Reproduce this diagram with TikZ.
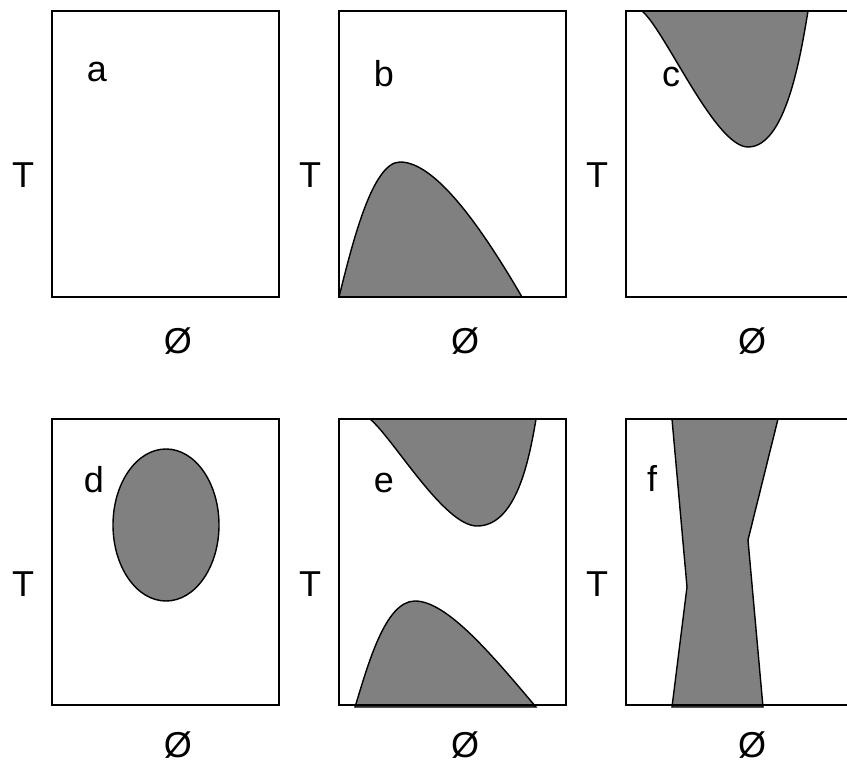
\documentclass[tikz,border=0pt]{standalone}
\usepackage{fontspec}
\setmainfont{Liberation Sans}
\definecolor{regiongray}{RGB}{128,128,128}
\tikzset{
    % frames and shaded phase regions
    panel/.style  = {draw=black, line width=0.8pt},
    region/.style = {draw=black, line width=0.7pt, fill=regiongray},
    % texts
    axislabel/.style = {font=\fontsize{18}{22}\selectfont, anchor=base, inner sep=0pt},
    tag/.style       = {font=\fontsize{18}{22}\selectfont, anchor=base, inner sep=0pt}
}

\begin{document}
\begin{tikzpicture}[x=0.5pt, y=-0.5pt]
    \useasboundingbox (0,0) rectangle (847,765);
    \clip (0,0) rectangle (847,765);

    % b: single lobe from the origin
    \draw[region] (339,297) .. controls (352,245) and (372,162) .. (400,162)
        .. controls (435,162) and (480,225) .. (522,297) -- cycle;
    % c: region hanging from the top
    \draw[region] (642,11) .. controls (665,30) and (715,147) .. (748,147)
        .. controls (785,147) and (800,60) .. (808,11) -- cycle;
    % d: closed island
    \draw[region] (166,525) ellipse [x radius=53, y radius=76];
    % e: both regions
    \draw[region] (370,419) .. controls (393,438) and (444,526) .. (477,526)
        .. controls (514,526) and (528,468) .. (536,419) -- cycle;
    \draw[region] (355,707) .. controls (368,665) and (385,601) .. (415,601)
        .. controls (447,601) and (492,655) .. (536,707) -- cycle;
    % f: band through the whole range
    \draw[region] (672,419) -- (687,587) -- (672,707) -- (763,707)
        -- (748,540) -- (778,419) -- cycle;

    \foreach \px/\py/\dy/\n in {52/11/342/a, 339/11/342/b, 626/11/342/c,
                                52/419/338/d, 339/419/338/e, 626/419/338/f} {
        \draw[panel] (\px,\py) rectangle ++(227,286);
        \node[axislabel] (T\n) at (\px-29,\py+177) {T};
        \node[axislabel] (phi\n) at (\px+126,\py+\dy) {Ø};
    }

    \node[tag] (taga) at (97,82) {a};
    \node[tag] (tagb) at (384,87) {b};
    \node[tag] (tagc) at (671,87) {c};
    \node[tag] (tagd) at (94,492) {d};
    \node[tag] (tage) at (384,492) {e};
    \node[tag] (tagf) at (652,491) {f};
\end{tikzpicture}
\end{document}
